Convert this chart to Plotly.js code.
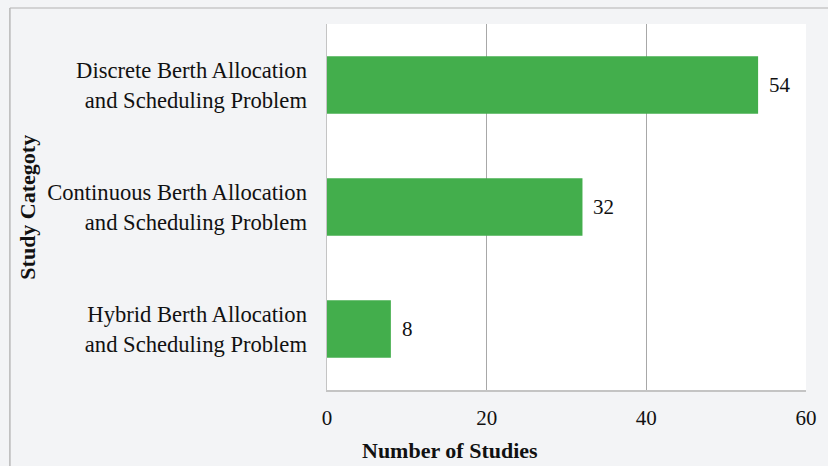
<!DOCTYPE html>
<html>
<head>
<meta charset="utf-8">
<script src="https://cdn.plot.ly/plotly-3.0.1.min.js"></script>
<style>html,body{margin:0;padding:0;background:#f3f4f6;}#chart{width:828px;height:466px;}</style>
</head>
<body>
<div id="chart"></div>
<script>
var categories = [
  "Hybrid Berth Allocation<br>and Scheduling Problem",
  "Continuous Berth Allocation<br>and Scheduling Problem",
  "Discrete Berth Allocation<br>and Scheduling Problem"
];
var studies = [8, 32, 54];
var xTicks = [0, 20, 40, 60];

var font = "Liberation Serif, Times New Roman, serif";

var trace = {
  type: "bar",
  orientation: "h",
  y: categories,
  x: studies,
  marker: {color: "#43ae4c"},
  width: 0.47,
  hoverinfo: "x+y"
};

var annotations = studies.map(function (v, i) {
  return {
    x: v, y: categories[i], xref: "x", yref: "y",
    text: String(v), showarrow: false, xanchor: "left", yanchor: "middle",
    xshift: 9, font: {family: font, size: 21, color: "#111"}
  };
});
annotations.push({
  xref: "paper", yref: "paper", x: 0.257, y: -0.165, xanchor: "center", yanchor: "middle",
  text: "<b>Number of Studies</b>", showarrow: false,
  font: {family: font, size: 22, color: "#111"}
});
annotations.push({
  xref: "paper", yref: "paper", x: -0.627, y: 0.5, xanchor: "center", yanchor: "middle",
  text: "<b>Study Categoty</b>", showarrow: false, textangle: -90,
  font: {family: font, size: 22, color: "#111"}
});

var layout = {
  width: 828, height: 466,
  margin: {l: 327, r: 22, t: 24, b: 76},
  paper_bgcolor: "#f3f4f6",
  plot_bgcolor: "#ffffff",
  showlegend: false,
  font: {family: font, size: 21, color: "#111"},
  xaxis: {
    range: [0, 60],
    tickvals: xTicks,
    ticktext: xTicks.map(String),
    showgrid: true,
    gridcolor: "#a8a8a8",
    gridwidth: 1,
    zeroline: false,
    showline: true,
    linecolor: "#c4c4c4",
    linewidth: 1.5,
    ticks: "",
    ticklabelstandoff: 8,
    tickfont: {family: font, size: 21, color: "#111"},
    fixedrange: true
  },
  yaxis: {
    showgrid: false,
    zeroline: false,
    showline: true,
    linecolor: "#c4c4c4",
    linewidth: 1.5,
    ticks: "",
    ticklabelstandoff: 14,
    tickfont: {family: font, size: 22.6, color: "#111"},
    automargin: false,
    fixedrange: true
  },
  annotations: annotations,
  shapes: [
    {type: "line", xref: "paper", yref: "paper", x0: -0.662, x1: 1.2, y0: 1.0437, y1: 1.0437, line: {color: "#c8c8c8", width: 1.5}},
    {type: "line", xref: "paper", yref: "paper", x0: -0.662, x1: -0.662, y0: 1.0437, y1: -0.3, line: {color: "#b8b8b8", width: 1.5}}
  ]
};

Plotly.newPlot("chart", [trace], layout, {displayModeBar: false, staticPlot: true});
</script>
</body>
</html>
